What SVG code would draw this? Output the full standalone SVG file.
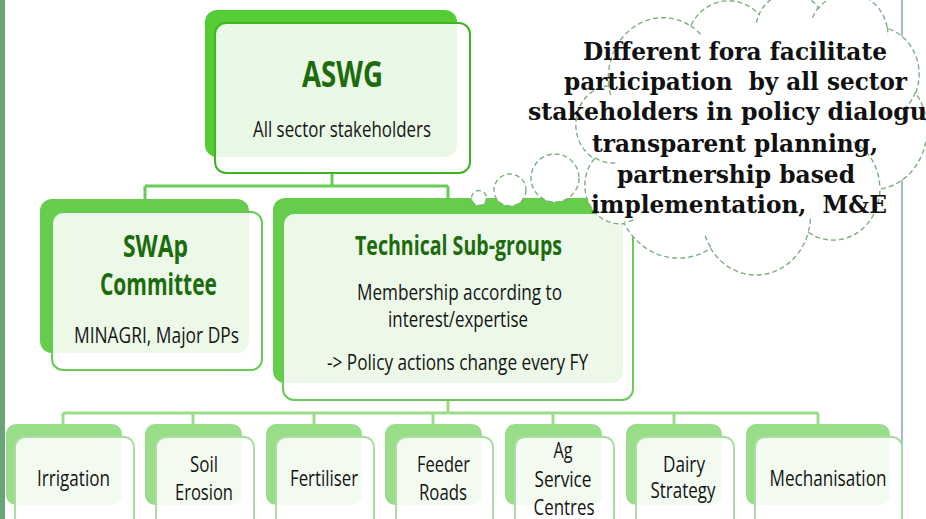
<svg xmlns="http://www.w3.org/2000/svg" width="926" height="519" viewBox="0 0 926 519">
<style>
.bg-a{fill:#55cc33}
.bg-b{fill:#66cc4c}
.bg-c{fill:#99dd88}
.fr{fill:#ffffff;fill-opacity:0.88;stroke-width:2}
.fr-a{stroke:#3db521}
.fr-b{stroke:#66cc55}
.fr-c{stroke:#aadda2}
.ttl{font-family:"Open Sans","Noto Sans","Liberation Sans",sans-serif;font-weight:bold;fill:#1d6b0c;text-anchor:middle}
.txt{font-family:"Open Sans","Noto Sans","Liberation Sans",sans-serif;fill:#141414;text-anchor:middle}
.bot{font-size:21.5px}
.sm{font-size:21px}
.conn-a{stroke:#66cc55;stroke-width:3;fill:none}
.conn-b{stroke:#99dd88;stroke-width:3;fill:none}
.cloud{fill:#ffffff;stroke:#7fae7f;stroke-width:1.4;stroke-dasharray:5 3}
.hook{fill:none;stroke:#7fae7f;stroke-width:1.4;stroke-dasharray:5 3}
.ct{font-family:"DejaVu Serif","Liberation Serif",serif;font-weight:bold;font-size:24px;fill:#111;text-anchor:middle}
</style>

<rect x="0" y="0" width="5" height="519" fill="#6aa577"/>
<line x1="902" y1="0" x2="902" y2="519" stroke="#a3bccb" stroke-width="2"/>

<g id="connectors">
<path class="conn-a" d="M332 173 V186 M145 186 H448 M145 186 V199 M448 186 V198"/>
<path class="conn-b" d="M448 400 V413 M63 413 H818 M63 413 V424 M193 413 V424 M314 413 V424 M433 413 V424 M553 413 V424 M674 413 V424 M818 413 V424"/>
</g>

<g id="aswg">
<rect class="bg-a" x="205" y="10" width="252" height="147" rx="12"/>
<rect class="fr fr-a" x="215" y="23" width="255" height="150" rx="11"/>
<text class="ttl" x="342.5" y="87" font-size="35" textLength="81" lengthAdjust="spacingAndGlyphs">ASWG</text>
<text class="txt sm" x="342" y="137" textLength="178" lengthAdjust="spacingAndGlyphs">All sector stakeholders</text>
</g>

<g id="swap">
<rect class="bg-b" x="40" y="199" width="209" height="154" rx="12"/>
<rect class="fr fr-b" x="52" y="212" width="210" height="158" rx="11"/>
<text class="ttl" x="155.5" y="257" font-size="31" textLength="65" lengthAdjust="spacingAndGlyphs">SWAp</text>
<text class="ttl" x="158.5" y="295" font-size="31" textLength="117" lengthAdjust="spacingAndGlyphs">Committee</text>
<text class="txt sm" x="156.5" y="343" textLength="165" lengthAdjust="spacingAndGlyphs">MINAGRI, Major DPs</text>
</g>

<g id="technical">
<rect class="bg-b" x="273" y="198" width="350" height="185" rx="12"/>
<rect class="fr fr-b" x="283" y="213" width="350" height="187" rx="11"/>
<text class="ttl" x="458.5" y="255" font-size="26" textLength="207" lengthAdjust="spacingAndGlyphs">Technical Sub-groups</text>
<text class="txt sm" x="459.5" y="300" textLength="205" lengthAdjust="spacingAndGlyphs">Membership according to</text>
<text class="txt sm" x="458" y="327" textLength="140" lengthAdjust="spacingAndGlyphs">interest/expertise</text>
<text class="txt sm" x="457.5" y="370" textLength="261" lengthAdjust="spacingAndGlyphs">-&gt; Policy actions change every FY</text>
</g>

<g id="irrigation">
<rect class="bg-c" x="6" y="424" width="116" height="81" rx="10"/>
<rect class="fr fr-c" x="15" y="437" width="119" height="100" rx="10"/>
<text class="txt bot" x="73.5" y="486" textLength="73" lengthAdjust="spacingAndGlyphs">Irrigation</text>
</g>

<g id="soil-erosion">
<rect class="bg-c" x="145" y="424" width="97" height="81" rx="10"/>
<rect class="fr fr-c" x="156" y="437" width="98" height="100" rx="10"/>
<text class="txt bot" x="204" y="472" textLength="28" lengthAdjust="spacingAndGlyphs">Soil</text>
<text class="txt bot" x="204" y="500" textLength="58" lengthAdjust="spacingAndGlyphs">Erosion</text>
</g>

<g id="fertiliser">
<rect class="bg-c" x="266" y="424" width="96" height="81" rx="10"/>
<rect class="fr fr-c" x="276" y="437" width="98" height="100" rx="10"/>
<text class="txt bot" x="324" y="486" textLength="68" lengthAdjust="spacingAndGlyphs">Fertiliser</text>
</g>

<g id="feeder-roads">
<rect class="bg-c" x="385" y="424" width="97" height="81" rx="10"/>
<rect class="fr fr-c" x="396" y="437" width="97" height="100" rx="10"/>
<text class="txt bot" x="443.5" y="472" textLength="53" lengthAdjust="spacingAndGlyphs">Feeder</text>
<text class="txt bot" x="443" y="500" textLength="48" lengthAdjust="spacingAndGlyphs">Roads</text>
</g>

<g id="ag-service-centres">
<rect class="bg-c" x="505" y="424" width="97" height="81" rx="10"/>
<rect class="fr fr-c" x="515" y="437" width="99" height="100" rx="10"/>
<text class="txt bot" x="563" y="458" textLength="19" lengthAdjust="spacingAndGlyphs">Ag</text>
<text class="txt bot" x="563" y="487" textLength="57" lengthAdjust="spacingAndGlyphs">Service</text>
<text class="txt bot" x="564" y="515" textLength="61" lengthAdjust="spacingAndGlyphs">Centres</text>
</g>

<g id="dairy-strategy">
<rect class="bg-c" x="626" y="424" width="96" height="81" rx="10"/>
<rect class="fr fr-c" x="636" y="437" width="98" height="100" rx="10"/>
<text class="txt bot" x="684" y="472" textLength="42" lengthAdjust="spacingAndGlyphs">Dairy</text>
<text class="txt bot" x="683" y="498" textLength="65" lengthAdjust="spacingAndGlyphs">Strategy</text>
</g>

<g id="mechanisation">
<rect class="bg-c" x="746" y="424" width="144" height="81" rx="10"/>
<rect class="fr fr-c" x="755" y="437" width="147" height="100" rx="10"/>
<text class="txt bot" x="828" y="486" textLength="117" lengthAdjust="spacingAndGlyphs">Mechanisation</text>
</g>

<g id="thought-cloud">
<circle class="cloud" cx="479" cy="198" r="7.5"/>
<circle class="cloud" cx="510" cy="190" r="16"/>
<circle class="cloud" cx="555" cy="178" r="24"/>
<path class="cloud" d="M608.85 85.81 A54.63 59.99 0 0 1 690.61 25.96 A43.14 47.44 0 0 1 758.99 14.41 A35.31 38.81 0 0 1 818.67 8.21 A39.29 43.05 0 0 1 887.31 28.43 A43.14 47.48 0 0 1 915.63 92.95 A54.81 60.19 0 0 1 879.91 189.18 A46.80 51.36 0 0 1 808.33 232.33 A54.62 60.16 0 0 1 710.63 248.33 A62.45 68.82 0 0 1 624.26 223.55 A35.27 38.63 0 0 1 594.40 158.78 A35.15 38.81 0 0 1 608.85 85.81 Z"/>
<path class="hook" d="M615.27 162.88 A35.15 38.81 0 0 1 594.77 157.68 M633.35 219.82 A35.27 38.63 0 0 1 624.37 222.31 M710.61 247.18 A54.62 60.16 0 0 1 705.21 235.82 M810.51 218.85 A54.62 60.16 0 0 1 808.35 231.32 M853.40 141.84 A46.80 51.36 0 0 1 879.71 188.43 M915.45 92.23 A43.14 47.48 0 0 1 903.72 109.71 M887.34 27.42 A39.29 43.05 0 0 1 887.96 35.67 M812.54 17.80 A39.29 43.05 0 0 1 818.55 7.26 M756.42 22.81 A35.31 38.81 0 0 1 759.33 13.74 M690.56 25.89 A54.63 59.99 0 0 1 701.08 34.70 M610.69 95.07 A54.63 59.99 0 0 1 608.85 85.81"/>
<text class="ct" x="735" y="60" textLength="304" lengthAdjust="spacingAndGlyphs">Different fora facilitate</text>
<text class="ct" x="735.5" y="90" xml:space="preserve" textLength="343" lengthAdjust="spacingAndGlyphs">participation  by all sector</text>
<text class="ct" x="735" y="120" textLength="414" lengthAdjust="spacingAndGlyphs">stakeholders in policy dialogue</text>
<text class="ct" x="735" y="152" textLength="286" lengthAdjust="spacingAndGlyphs">transparent planning,</text>
<text class="ct" x="736" y="183" textLength="238" lengthAdjust="spacingAndGlyphs">partnership based</text>
<text class="ct" x="739" y="213" xml:space="preserve" textLength="296" lengthAdjust="spacingAndGlyphs">implementation,  M&amp;E</text>
</g>
</svg>
